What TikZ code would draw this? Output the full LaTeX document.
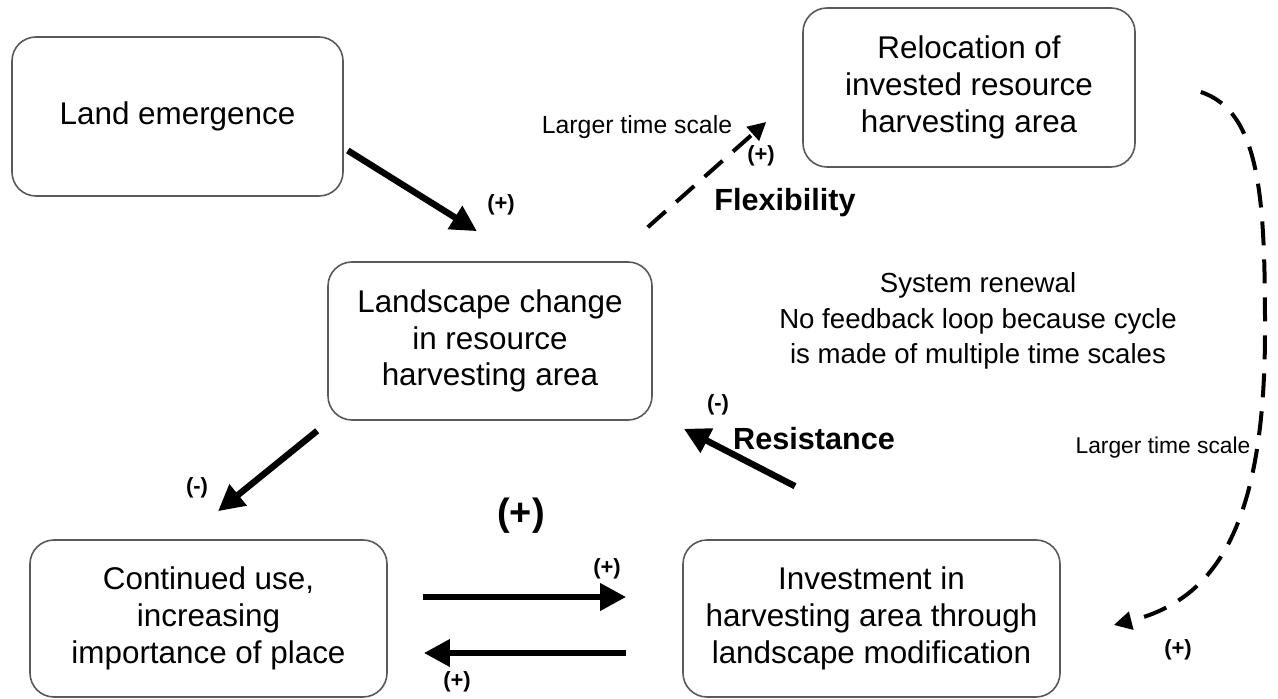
\documentclass[tikz,border=0pt]{standalone}
\usepackage{fontspec}
\setmainfont{Liberation Sans}
\usetikzlibrary{positioning,arrows.meta}

\begin{document}
\begin{tikzpicture}[
  x=0.5pt, y=-0.5pt,
  box/.style={draw=black!65, line width=0.8pt, rounded corners=12pt, align=center,
              inner sep=0pt, font=\fontsize{15.7}{18.4}\selectfont},
  flow/.style={-{Triangle[length=13pt,width=13pt]}, line width=3.2pt},
  slow/.style={-{Triangle[length=9pt,width=9pt]}, line width=2pt, dash pattern=on 12pt off 7pt},
  sign/.style={font=\fontsize{11}{13}\selectfont\bfseries},
  tag/.style={font=\fontsize{15.3}{18}\selectfont\bfseries},
  note/.style={font=\fontsize{12.4}{15}\selectfont},
]
\useasboundingbox (0,0) rectangle (1278,699);

% ---- boxes ----
\node[box, minimum width=165.5pt, minimum height=79.5pt] (land)   at (177.5,116.5) {Land emergence};
\node[box, minimum width=166pt,   minimum height=79.5pt] (reloc)  at (969,87.5)    {Relocation of\\invested resource\\harvesting area};
\node[box, minimum width=162pt,   minimum height=79pt]   (change) at (490,341)     {Landscape change\\in resource\\harvesting area};
\node[box, minimum width=178.5pt, minimum height=78.5pt] (cont)   at (208.5,618.5) {Continued use,\\increasing\\importance of place};
\node[box, minimum width=188.5pt, minimum height=78.5pt] (invest) at (871.5,618.5) {Investment in\\harvesting area through\\landscape modification};

% ---- solid links ----
\draw[flow] ([shift={(4,34)}]land.east) -- ([shift={(-13,-30)}]change.north);
\draw[flow] ([shift={(-10,10)}]change.south west) -- ([shift={(9.5,-28)}]cont.north);
\draw[flow] ([shift={(-76.5,-53)}]invest.north) -- ([shift={(31,8)}]change.south east);
\draw[flow] ([shift={(35,-21.5)}]cont.east) -- ([shift={(-56,-21.5)}]invest.west);
\draw[flow] ([shift={(-56,34.5)}]invest.west) -- ([shift={(36,34.5)}]cont.east);

% ---- dashed links (larger time scale) ----
\draw[slow] ([shift={(-5,-34)}]change.north east) -- ([shift={(-36,34.5)}]reloc.west);
\coordinate (rim) at (1265,330);
\draw[slow] ([shift={(65,4.5)}]reloc.east) .. controls +(60,20) and +(0,-130) .. (rim)
            .. controls +(0,200) and +(100,-25) .. ([shift={(53,6.5)}]invest.east);

% ---- signs and labels ----
\node[sign] (s1) at (501,205) {(+)};
\node[sign] (s2) at (197,488) {(-)};
\node[sign] (s3) at (718,405) {(-)};
\node[sign] (s4) at (607,569) {(+)};
\node[sign] (s5) at (457,682) {(+)};
\node[sign] (s6) at (761,156) {(+)};
\node[sign] (s7) at (1178,650) {(+)};
\node[font=\fontsize{19}{22}\selectfont\bfseries] (loop) at (521,516) {(+)};

\node[tag] (flex) at (785,203) {Flexibility};
\node[tag] (resist) at (814,439) {Resistance};

\node[note] (ts1) at (637,127) {Larger time scale};
\node[note, font=\fontsize{11.4}{14}\selectfont] (ts2) at (1163,448) {Larger time scale};
\node[align=center, font=\fontsize{13.8}{17.6}\selectfont] (renew) at (978,321)
      {System renewal\\No feedback loop because cycle\\is made of multiple time scales};
\end{tikzpicture}
\end{document}
